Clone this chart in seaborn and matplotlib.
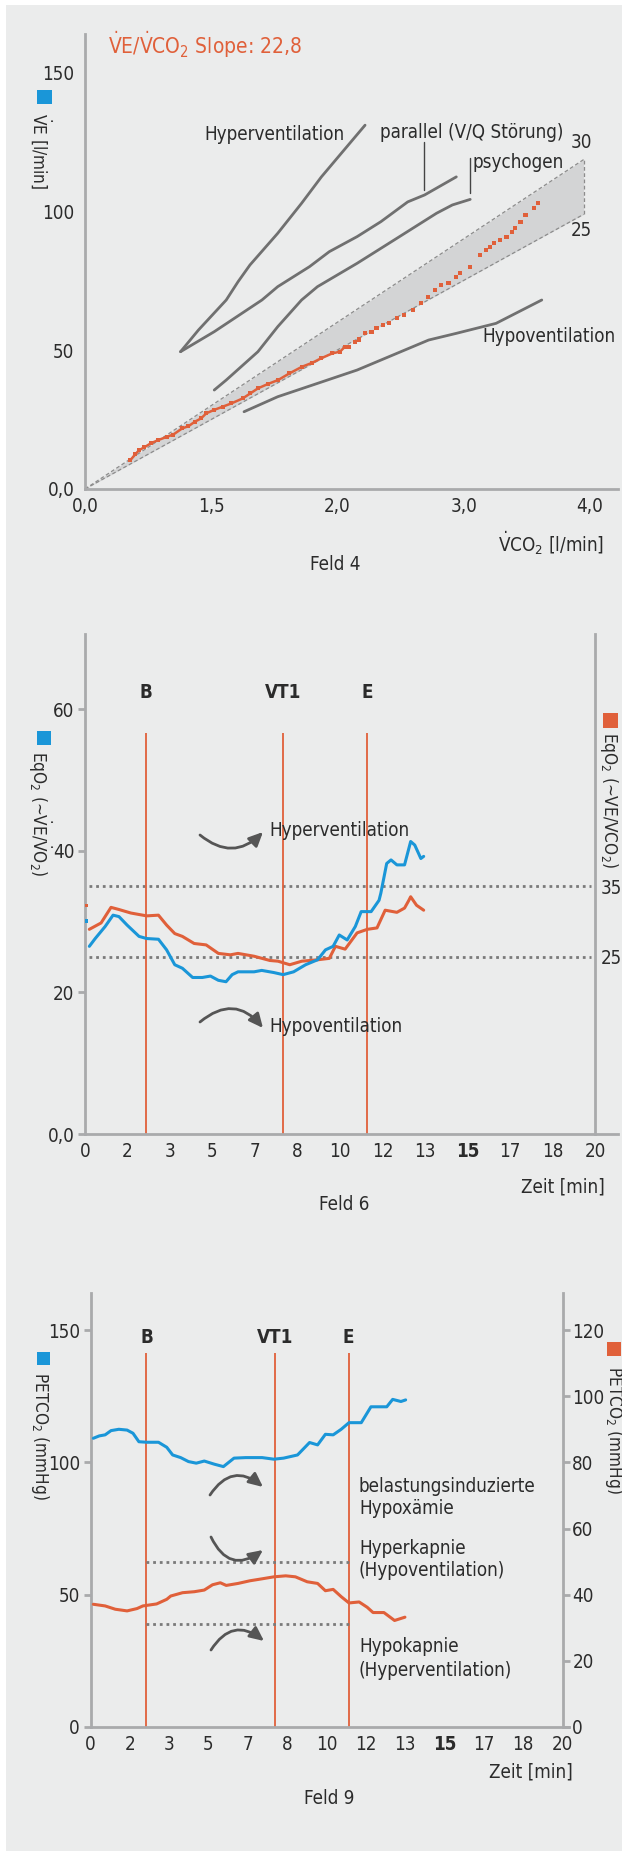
import matplotlib
matplotlib.use('Agg')
import matplotlib.pyplot as plt
import seaborn as sns
from matplotlib import font_manager
from matplotlib.patches import Rectangle, FancyArrowPatch
from matplotlib.lines import Line2D

# ---------------- Feld 4: VE vs VCO2 ----------------
vco2_ticks = [0, 1, 2, 3, 4]
vco2_labels = ['0,0', '1,5', '2,0', '3,0', '4,0']
ve_ticks = [0, 50, 100, 150]
ve_labels = ['0,0', '50', '100', '150']

band_x = [0, 3.95]
band_lo = [0, 98.8]     # slope 25
band_hi = [0, 118.5]    # slope 30

hyper_x = [0.757, 0.899, 1.119, 1.213, 1.307, 1.527, 1.716, 1.873, 2.031, 2.219]
hyper_y = [49.4, 57.2, 68.0, 74.6, 80.6, 92.0, 102.8, 112.3, 120.8, 130.9]
parallel_x = [0.757, 1.024, 1.402, 1.527, 1.779, 1.936, 2.156, 2.345, 2.557, 2.691, 2.942]
parallel_y = [49.4, 56.6, 68.0, 72.8, 80.0, 85.4, 90.8, 96.2, 103.3, 105.8, 112.3]
psycho_x = [1.024, 1.119, 1.370, 1.527, 1.716, 1.842, 2.156, 2.471, 2.785, 2.911, 3.052]
psycho_y = [35.6, 39.2, 49.4, 58.4, 68.0, 72.8, 81.2, 90.2, 99.2, 102.2, 104.2]
hypo_x = [1.260, 1.527, 1.842, 2.156, 2.471, 2.723, 2.942, 3.257, 3.619]
hypo_y = [27.8, 33.2, 38.0, 42.8, 48.8, 53.6, 56.0, 59.6, 68.0]

slope_x_dense = [0.36, 0.40, 0.43, 0.47, 0.52, 0.58, 0.65, 0.70, 0.77, 0.82, 0.87, 0.92, 0.96, 1.02,
                 1.09, 1.16, 1.25, 1.31, 1.37, 1.45, 1.53, 1.62, 1.72, 1.80, 1.87, 1.96, 2.02, 2.06]
slope_y_dense = [10.4, 12.6, 14.0, 15.0, 16.4, 17.6, 18.8, 19.6, 21.8, 22.6, 24.2, 25.4, 27.2, 28.4,
                 29.6, 30.8, 32.6, 34.4, 36.2, 37.8, 39.2, 41.6, 44.0, 45.4, 47.0, 48.8, 49.4, 51.2]
slope_x_sparse = [2.09, 2.14, 2.17, 2.22, 2.27, 2.31, 2.36, 2.41, 2.47, 2.53, 2.60, 2.66, 2.72, 2.77, 2.82, 2.88,
                  2.94, 2.97, 3.05, 3.13, 3.18, 3.21, 3.24, 3.29, 3.34, 3.38, 3.41, 3.45, 3.49, 3.56, 3.59]
slope_y_sparse = [51.2, 53.0, 53.8, 56.0, 56.6, 57.8, 59.0, 59.8, 61.4, 62.6, 64.4, 66.8, 69.2, 71.6, 73.4, 74.2,
                  76.4, 77.8, 80.0, 84.2, 86.0, 87.2, 88.4, 89.6, 90.8, 92.6, 94.0, 96.2, 98.6, 101.2, 102.8]

# ---------------- Feld 6 / 9: time axis ----------------
time_ticks = [0, 5/3, 10/3, 5, 20/3, 25/3, 10, 35/3, 40/3, 15, 50/3, 55/3, 20]
time_labels = ['0', '2', '3', '5', '7', '8', '10', '12', '13', '15', '17', '18', '20']
marker_names = ['B', 'VT1', 'E']

# Feld 6
f6_markers = [2.40, 7.77, 11.07]
eq_ticks = [0, 20, 40, 60]
eq_labels = ['0,0', '20', '40', '60']
eq_thresholds = [25, 35]
eqo2_t = [0.17, 0.40, 0.79, 1.10, 1.33, 1.65, 2.12, 2.42, 2.88, 3.20, 3.52, 3.82, 4.22, 4.60, 4.92,
          5.23, 5.53, 5.77, 6.00, 6.63, 6.93, 7.40, 7.77, 8.18, 8.65, 9.12, 9.43, 9.73, 9.97, 10.28,
          10.60, 10.83, 11.22, 11.53, 11.60, 11.83, 12.00, 12.23, 12.53, 12.77, 12.93, 13.17, 13.28]
eqo2 = [26.5, 27.6, 29.3, 30.9, 30.7, 29.5, 27.9, 27.6, 27.5, 26.0, 23.9, 23.4, 22.1, 22.1, 22.3,
        21.7, 21.5, 22.5, 22.9, 22.9, 23.1, 22.8, 22.5, 22.9, 23.9, 24.6, 26.0, 26.5, 28.1, 27.4,
        29.3, 31.4, 31.4, 33.0, 34.0, 38.2, 38.7, 38.0, 38.0, 41.3, 40.8, 38.9, 39.2]
eqco2_t = [0.17, 0.63, 1.02, 1.33, 1.80, 2.42, 2.88, 3.20, 3.52, 3.82, 4.28, 4.75, 5.23, 5.70, 6.00,
           6.63, 7.25, 7.57, 8.03, 8.50, 9.12, 9.58, 9.82, 10.20, 10.67, 11.07, 11.45, 11.77, 12.23,
           12.53, 12.70, 12.77, 13.00, 13.28]
eqco2 = [28.9, 29.8, 32.0, 31.7, 31.2, 30.8, 30.9, 29.5, 28.3, 27.9, 26.9, 26.7, 25.5, 25.3, 25.5,
         25.1, 24.5, 24.4, 23.9, 24.4, 24.6, 24.8, 26.5, 26.1, 28.4, 28.9, 29.1, 31.6, 31.3,
         31.9, 33.0, 33.5, 32.3, 31.6]
eq_first_t = [0.05, 0.05]
eq_first = [30.1, 32.3]

# Feld 9
f9_markers = [2.37, 7.83, 10.93]
pet_left_ticks = [0, 50, 100, 150]
pet_right_ticks = [0, 20, 40, 60, 80, 100, 120]
pet_thresholds = [50, 31]
peto2_t = [0.12, 0.37, 0.62, 0.87, 1.20, 1.55, 1.80, 2.05, 2.38, 2.88, 3.23, 3.48, 3.82, 4.15, 4.48,
           4.82, 5.25, 5.63, 6.08, 6.58, 7.27, 7.77, 8.18, 8.77, 9.28, 9.62, 9.95, 10.28, 10.62, 10.95,
           11.47, 11.88, 12.55, 12.80, 13.15, 13.35]
peto2 = [109.1, 110.0, 110.4, 112.0, 112.5, 112.2, 111.0, 107.8, 107.6, 107.6, 105.7, 102.8, 101.8, 100.3, 99.7,
         100.5, 99.3, 98.4, 101.6, 101.8, 101.8, 101.2, 101.6, 102.8, 107.5, 106.6, 110.6, 110.4, 112.5, 115.0,
         115.0, 121.0, 121.0, 123.8, 123.0, 123.6]
petco2_t = [0.12, 0.62, 1.05, 1.55, 1.97, 2.22, 2.80, 3.23, 3.40, 3.90, 4.40, 4.82, 5.17, 5.50, 5.75,
            6.25, 6.75, 7.27, 7.77, 8.27, 8.68, 9.18, 9.62, 9.95, 10.28, 10.62, 10.95, 11.38, 11.72,
            11.97, 12.43, 12.88, 13.32]
petco2 = [37.1, 36.6, 35.6, 35.1, 35.8, 36.6, 37.2, 38.6, 39.6, 40.6, 40.9, 41.4, 43.0, 43.6, 42.8,
          43.4, 44.2, 44.8, 45.4, 45.7, 45.4, 43.9, 43.4, 41.2, 41.6, 39.4, 37.5, 37.8, 36.2,
          34.6, 34.6, 32.2, 33.2]

# ---------------- style ----------------
BLUE = '#1a96d8'
ORANGE = '#e0603a'
LINE_GREY = '#707070'
SPINE = '#a9aaac'
BG = '#ebecec'
TXT = '#2b2b2b'
ARROW = '#555555'
FS = 13.5
FS_LAB = 12.3

sns.set_theme(style='white')
names = {f.name for f in font_manager.fontManager.ttflist}
FONT = 'Liberation Sans Narrow' if 'Liberation Sans Narrow' in names else 'DejaVu Sans'
plt.rcParams['font.family'] = [FONT, 'DejaVu Sans']
if FONT == 'DejaVu Sans':
    plt.rcParams['font.stretch'] = 'condensed'
plt.rcParams['mathtext.fontset'] = 'custom'
plt.rcParams['mathtext.rm'] = FONT
plt.rcParams['mathtext.it'] = FONT + ':italic'
plt.rcParams['mathtext.bf'] = FONT + ':bold'
plt.rcParams['mathtext.sf'] = FONT

VD = r'$\dot{\mathrm{V}}$'

W, H = 622, 1853
fig = plt.figure(figsize=(W / 100, H / 100), dpi=100, facecolor='white')
fig.add_artist(Rectangle((6 / W, 1 - 1851 / H), (W - 6) / W, (1851 - 5) / H,
                         transform=fig.transFigure, facecolor=BG, edgecolor='none', zorder=-10))


def P(x, y):
    return (x / W, 1 - y / H)


def add_ax(l, t, r, b):
    return fig.add_axes([l / W, 1 - b / H, (r - l) / W, (b - t) / H])


def ftext(x, y, s, **kw):
    kw.setdefault('fontsize', FS)
    kw.setdefault('color', TXT)
    fig.text(x / W, 1 - y / H, s, **kw)


def square(x0, y0, x1, y1, color):
    fig.add_artist(Rectangle((x0 / W, 1 - y1 / H), (x1 - x0) / W, (y1 - y0) / H,
                             transform=fig.transFigure, facecolor=color, edgecolor='none'))


def fline(x0, y0, x1, y1, **kw):
    fig.add_artist(Line2D([x0 / W, x1 / W], [1 - y0 / H, 1 - y1 / H], transform=fig.transFigure, **kw))


def curved_arrow(x0, y0, x1, y1, rad):
    fig.add_artist(FancyArrowPatch(P(x0, y0), P(x1, y1), transform=fig.transFigure,
                                   connectionstyle=f'arc3,rad={rad}',
                                   arrowstyle='-|>,head_length=0.6,head_width=0.28',
                                   mutation_scale=14, color=ARROW, lw=2, shrinkA=0, shrinkB=0))


def style(ax):
    ax.set_facecolor('none')
    for s in ['top', 'right']:
        ax.spines[s].set_visible(False)
    for s in ['left', 'bottom']:
        ax.spines[s].set_color(SPINE)
        ax.spines[s].set_linewidth(2)
    ax.tick_params(axis='y', length=5, width=2, color=SPINE, pad=2.5, labelsize=FS, labelcolor=TXT)
    ax.tick_params(axis='x', length=0, pad=6, labelsize=FS, labelcolor=TXT)
    ax.set_xlabel('')
    ax.set_ylabel('')


def line(ax, x, y, color, lw=2.2, **kw):
    sns.lineplot(x=x, y=y, ax=ax, color=color, lw=lw, estimator=None, sort=False, legend=False, **kw)


# ================= Feld 4 =================
ax1 = add_ax(85, 34, 618, 489)
ax1.fill_between(band_x, band_lo, band_hi, color='#d3d4d5', lw=0, zorder=1)
for yy in (band_lo, band_hi):
    ax1.plot(band_x, yy, color='#8c8c8c', lw=0.9, ls=(0, (3, 2)), zorder=2)
ax1.plot([band_x[-1], band_x[-1]], [band_lo[-1], band_hi[-1]], color='#8c8c8c', lw=0.9, ls=(0, (3, 2)), zorder=2)
for xs, ys in [(hyper_x, hyper_y), (parallel_x, parallel_y), (psycho_x, psycho_y), (hypo_x, hypo_y)]:
    line(ax1, xs, ys, LINE_GREY, lw=2)
line(ax1, slope_x_dense, slope_y_dense, ORANGE, lw=1.8, marker='s', markersize=3, markeredgewidth=0, zorder=5)
sns.scatterplot(x=slope_x_sparse, y=slope_y_sparse, ax=ax1, marker='s', s=9, color=ORANGE,
                edgecolor='none', zorder=5, legend=False)
ax1.set_xlim(0, 4.223)
ax1.set_ylim(0, 163.7)
ax1.set_xticks(vco2_ticks, vco2_labels)
ax1.set_yticks(ve_ticks, ve_labels)
style(ax1)

ftext(108, 45, VD + 'E/' + VD + r'CO$_2$ Slope: 22,8', color=ORANGE, ha='left', va='center', fontsize=15)
square(37, 90, 52, 104, BLUE)
ftext(41, 151, VD + 'E [l/min]', rotation=270, ha='center', va='center', fontsize=FS_LAB)
ftext(344, 135, 'Hyperventilation', ha='right', va='center')
ftext(380, 132, 'parallel (V/Q Störung)', ha='left', va='center')
ftext(472, 163, 'psychogen', ha='left', va='center')
ftext(581, 143, '30', ha='center', va='center')
ftext(581, 230, '25', ha='center', va='center')
ftext(482, 337, 'Hypoventilation', ha='left', va='center')
fline(424, 142, 424, 190, color='#444444', lw=1)
fline(470, 158, 470, 193, color='#444444', lw=1)
ftext(604, 543, VD + r'CO$_2$ [l/min]', ha='right', va='center')
ftext(335, 565, 'Feld 4', ha='center', va='center')

# ================= Feld 6 =================
ax2 = add_ax(85, 634, 618, 1134)
ax2.hlines(eq_thresholds, 0.15, 19.85, color='#7a7a7a', lw=2, linestyles=[(0, (1, 1.4))], zorder=1)
ax2.vlines(f6_markers, 0, 56.6, color=ORANGE, lw=1.3, zorder=2)
for t, name in zip(f6_markers, marker_names):
    ax2.text(t, 62.3, name, ha='center', va='center', fontsize=FS, fontweight='bold', color=TXT)
line(ax2, eqco2_t, eqco2, ORANGE, zorder=3)
line(ax2, eqo2_t, eqo2, BLUE, zorder=4)
ax2.scatter(eq_first_t, eq_first, marker='s', s=6, c=[BLUE, ORANGE], lw=0, zorder=4)
ax2.set_xlim(0, 20.9)
ax2.set_ylim(0, 70.6)
ax2.set_xticks(time_ticks, time_labels)
ax2.set_yticks(eq_ticks, eq_labels)
style(ax2)
ax2r = ax2.twinx()
ax2r.set_ylim(0, 70.6)
for s in ['top', 'left', 'bottom']:
    ax2r.spines[s].set_visible(False)
ax2r.spines['right'].set_position(('data', 20))
ax2r.spines['right'].set_color(SPINE)
ax2r.spines['right'].set_linewidth(2)
ax2r.set_yticks(eq_thresholds, [str(v) for v in eq_thresholds])
ax2r.tick_params(axis='y', length=0, pad=4, labelsize=FS, labelcolor=TXT)
ax2r.grid(False)

square(37, 731, 51, 745, BLUE)
ftext(40, 814, r'EqO$_2$ (~' + VD + 'E/' + VD + r'O$_2$)', rotation=270, ha='center', va='center',
      fontsize=FS_LAB)
square(603, 713, 618, 728, ORANGE)
ftext(611, 800, r'EqO$_2$ (~' + VD + 'E/' + VD + r'CO$_2$)', rotation=270, ha='center', va='center',
      fontsize=FS_LAB)
ftext(269, 831, 'Hyperventilation', ha='left', va='center')
curved_arrow(200, 835, 263, 832, 0.45)
ftext(269, 1027, 'Hypoventilation', ha='left', va='center')
curved_arrow(200, 1022, 263, 1028, -0.5)
ftext(605, 1187, 'Zeit [min]', ha='right', va='center')
ftext(344, 1205, 'Feld 6', ha='center', va='center')

# ================= Feld 9 =================
ax3 = add_ax(90.5, 1293, 569, 1727)
ax3.vlines(f9_markers, 0, 141.3, color=ORANGE, lw=1.3, zorder=2)
for t, name in zip(f9_markers, marker_names):
    ax3.text(t, 147.0, name, ha='center', va='center', fontsize=FS, fontweight='bold', color=TXT)
line(ax3, peto2_t, peto2, BLUE, zorder=4)
ax3.set_xlim(0, 20.27)
ax3.set_ylim(0, 164)
ax3.set_xticks(time_ticks, time_labels)
ax3.set_yticks(pet_left_ticks, [str(v) for v in pet_left_ticks])
style(ax3)
ax3r = ax3.twinx()
ax3r.set_ylim(0, 131.2)
ax3r.hlines(pet_thresholds, f9_markers[0], f9_markers[-1], color='#7a7a7a', lw=2,
            linestyles=[(0, (1, 1.4))], zorder=1)
line(ax3r, petco2_t, petco2, ORANGE, zorder=3)
for s in ['top', 'left', 'bottom']:
    ax3r.spines[s].set_visible(False)
ax3r.spines['right'].set_position(('data', 20))
ax3r.spines['right'].set_color(SPINE)
ax3r.spines['right'].set_linewidth(2)
ax3r.set_yticks(pet_right_ticks, [str(v) for v in pet_right_ticks])
ax3r.tick_params(axis='y', length=5, width=2, color=SPINE, pad=2, labelsize=FS, labelcolor=TXT)
ax3r.set_ylabel('')
ax3r.grid(False)

for lab in ax2.get_xticklabels() + ax3.get_xticklabels():
    if lab.get_text() == '15':
        lab.set_fontweight('bold')

square(37, 1352, 50, 1365, BLUE)
ftext(40, 1436, r'PETCO$_2$ (mmHg)', rotation=270, ha='center', va='center', fontsize=FS_LAB)
square(607, 1342, 621, 1356, ORANGE)
ftext(614, 1430, r'PETCO$_2$ (mmHg)', rotation=270, ha='center', va='center', fontsize=FS_LAB)
ftext(359, 1486, 'belastungsinduzierte', ha='left', va='center')
ftext(359, 1508, 'Hypoxämie', ha='left', va='center')
ftext(359, 1548, 'Hyperkapnie', ha='left', va='center')
ftext(359, 1571, '(Hypoventilation)', ha='left', va='center')
ftext(359, 1647, 'Hypokapnie', ha='left', va='center')
ftext(359, 1670, '(Hyperventilation)', ha='left', va='center')
curved_arrow(210, 1495, 263, 1487, -0.55)
curved_arrow(211, 1537, 263, 1550, 0.6)
curved_arrow(211, 1650, 264, 1641, -0.55)
ftext(573, 1772, 'Zeit [min]', ha='right', va='center')
ftext(329, 1799, 'Feld 9', ha='center', va='center')

fig.savefig('out.png', dpi=100, facecolor='white')
